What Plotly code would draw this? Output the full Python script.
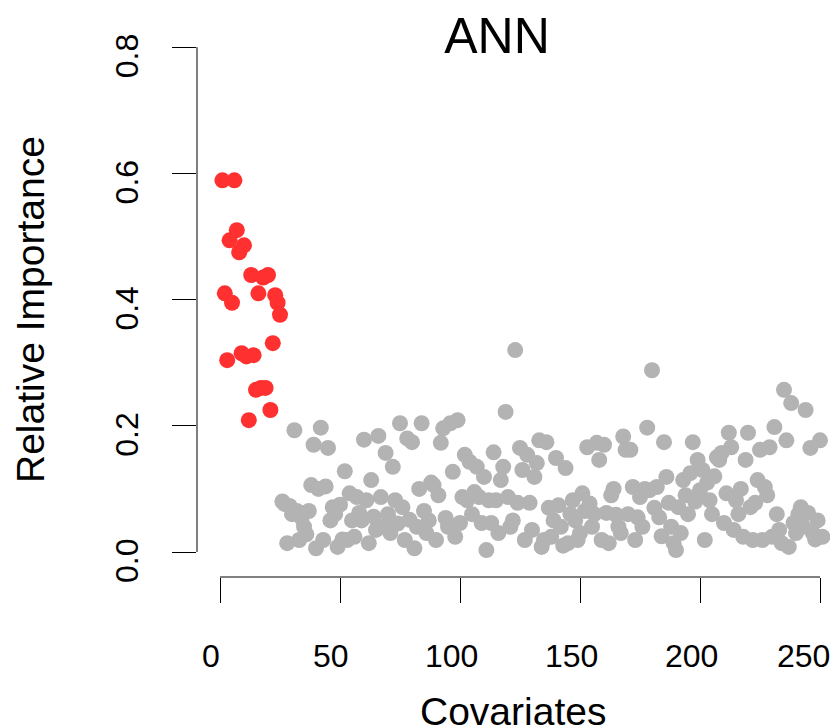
import plotly.graph_objects as go

# ---- data ----
red_x = list(range(1, 26))
red_y = [0.589, 0.410, 0.304, 0.494, 0.395, 0.589, 0.510, 0.475, 0.315, 0.486,
         0.310, 0.209, 0.439, 0.312, 0.257, 0.410, 0.260, 0.435, 0.260, 0.439,
         0.225, 0.331, 0.407, 0.395, 0.376]

grey_x = list(range(26, 252))
grey_y = [
    0.080, 0.076, 0.014, 0.073, 0.060, 0.193, 0.065, 0.019, 0.054, 0.040,   # 26-35
    0.028, 0.065, 0.106, 0.170, 0.006, 0.100, 0.197, 0.019, 0.104, 0.165,   # 36-45
    0.050, 0.071, 0.060, 0.008, 0.075, 0.020, 0.128, 0.019, 0.093, 0.050,   # 46-55
    0.024, 0.087, 0.062, 0.050, 0.178, 0.082, 0.014, 0.114, 0.056, 0.035,   # 56-65
    0.184, 0.087, 0.040, 0.157, 0.060, 0.030, 0.135, 0.082, 0.045, 0.204,   # 66-75
    0.071, 0.019, 0.180, 0.051, 0.174, 0.006, 0.040, 0.100, 0.204, 0.065,   # 76-85
    0.030, 0.050, 0.110, 0.106, 0.019, 0.090, 0.173, 0.196, 0.054, 0.040,   # 86-95
    0.204, 0.127, 0.024, 0.209, 0.046, 0.087, 0.154, 0.082, 0.143, 0.060,   # 96-105
    0.095, 0.135, 0.087, 0.046, 0.119, 0.003, 0.082, 0.046, 0.158, 0.082,   # 106-115
    0.030, 0.114, 0.135, 0.222, 0.087, 0.040, 0.050, 0.320, 0.078, 0.165,   # 116-125
    0.130, 0.019, 0.154, 0.078, 0.035, 0.119, 0.141, 0.177, 0.008, 0.019,   # 126-135
    0.174, 0.070, 0.024, 0.050, 0.149, 0.074, 0.040, 0.010, 0.133, 0.014,   # 136-145
    0.060, 0.082, 0.050, 0.019, 0.030, 0.093, 0.065, 0.166, 0.077, 0.040,   # 146-155
    0.060, 0.173, 0.146, 0.019, 0.170, 0.062, 0.014, 0.090, 0.100, 0.059,   # 156-165
    0.040, 0.030, 0.183, 0.162, 0.060, 0.162, 0.103, 0.019, 0.055, 0.087,   # 166-175
    0.040, 0.100, 0.197, 0.098, 0.288, 0.070, 0.103, 0.055, 0.025, 0.174,   # 176-185
    0.119, 0.078, 0.040, 0.014, 0.003, 0.071, 0.030, 0.114, 0.090, 0.060,   # 186-195
    0.125, 0.174, 0.080, 0.146, 0.098, 0.130, 0.019, 0.110, 0.082, 0.060,   # 196-205
    0.120, 0.150, 0.146, 0.157, 0.046, 0.093, 0.189, 0.166, 0.035, 0.082,   # 206-215
    0.060, 0.100, 0.024, 0.146, 0.189, 0.071, 0.019, 0.078, 0.114, 0.162,   # 216-225
    0.019, 0.103, 0.090, 0.166, 0.024, 0.198, 0.060, 0.035, 0.014, 0.257,   # 226-235
    0.177, 0.008, 0.236, 0.046, 0.030, 0.060, 0.071, 0.040, 0.225, 0.062,   # 236-245
    0.165, 0.030, 0.020, 0.050, 0.177, 0.024,                               # 246-251
]

x_ticks = [0, 50, 100, 150, 200, 250]
x_tick_labels = ["0", "50", "100", "150", "200", "250"]
y_ticks = [0.0, 0.2, 0.4, 0.6, 0.8]
y_tick_labels = ["0.0", "0.2", "0.4", "0.6", "0.8"]

title_text = "ANN"
x_title = "Covariates"
y_title = "Relative Importance"

FONT = "Liberation Sans, Arial, sans-serif"
RED = "#FF3030"
GREY = "#B3B3B3"

# page has an 8px body margin: figure is placed at (8, 8) in the window
OFF = 8
W, H = 838 - OFF, 728 - OFF
L, T = 197 - OFF, 27 - OFF
PW, PH = W - L, 550
B = H - T - PH
X_MAX = (838 - 220) / 2.4

fig = go.Figure()
fig.add_trace(go.Scatter(x=grey_x, y=grey_y, mode="markers",
                         marker=dict(size=16, color=GREY, line=dict(width=0)),
                         hoverinfo="skip", showlegend=False, cliponaxis=False))
fig.add_trace(go.Scatter(x=red_x, y=red_y, mode="markers",
                         marker=dict(size=16, color=RED, line=dict(width=0)),
                         hoverinfo="skip", showlegend=False, cliponaxis=False))

# axis lines spanning only first to last tick (R style)
fig.add_shape(type="line", xref="x", yref="paper", x0=x_ticks[0], x1=x_ticks[-1],
              y0=0, y1=0, line=dict(color="black", width=1))
fig.add_shape(type="line", xref="paper", yref="y", x0=0, x1=0,
              y0=y_ticks[0], y1=y_ticks[-1], line=dict(color="black", width=1))

fig.update_xaxes(range=[-9.583, X_MAX], tickvals=x_ticks, ticktext=[""] * len(x_ticks),
                 ticks="outside", ticklen=25, tickwidth=1, tickcolor="black",
                 showline=False, showgrid=False, zeroline=False)
fig.update_yaxes(range=[-0.0396, 0.832], tickvals=y_ticks, ticktext=[""] * len(y_ticks),
                 ticks="outside", ticklen=24, tickwidth=1, tickcolor="black",
                 showline=False, showgrid=False, zeroline=False)

# tick labels (R places them slightly offset from the ticks in this image);
# the last one is nudged left so it stays fully visible
for i, (v, lab) in enumerate(zip(x_ticks, x_tick_labels)):
    xs = -17 if i == len(x_ticks) - 1 else -9
    fig.add_annotation(text=lab, xref="x", yref="paper", x=v, y=0,
                       xanchor="center", yanchor="middle", xshift=xs, yshift=-79,
                       showarrow=False, font=dict(family=FONT, size=32, color="black"))
for v, lab in zip(y_ticks, y_tick_labels):
    fig.add_annotation(text=lab, xref="paper", yref="y", x=0, y=v,
                       xanchor="center", yanchor="middle", xshift=-70, yshift=-9,
                       textangle=-90, showarrow=False,
                       font=dict(family=FONT, size=32, color="black"))

fig.add_annotation(text=x_title, xref="paper", yref="paper", x=(513 - 197) / PW,
                   y=(577 - 711) / PH, xanchor="center", yanchor="middle",
                   showarrow=False, font=dict(family=FONT, size=39, color="black"))
fig.add_annotation(text=y_title, xref="paper", yref="paper", x=(30 - 197) / PW,
                   y=(577 - 310) / PH, xanchor="center", yanchor="middle",
                   textangle=-90, showarrow=False,
                   font=dict(family=FONT, size=39, color="black"))

fig.update_layout(
    width=W, height=H,
    margin=dict(l=L, r=0, t=T, b=B),
    paper_bgcolor="white", plot_bgcolor="white",
    title=dict(text=title_text, x=(497 - OFF) / W, xanchor="center",
               y=1 - (35 - OFF) / H, yanchor="middle", yref="container",
               font=dict(family=FONT, size=50, color="black")),
)

fig.write_html("out.html")
